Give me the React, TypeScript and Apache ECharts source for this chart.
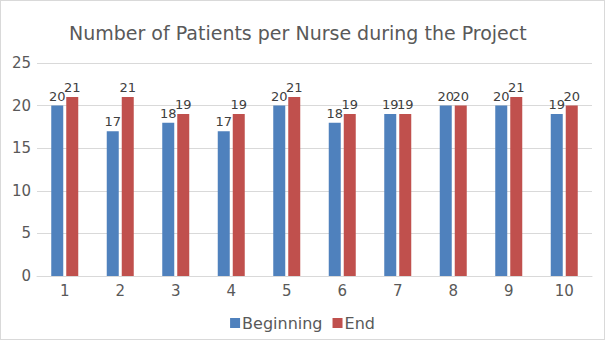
import React, { useEffect, useRef } from "react";
import * as echarts from "echarts";

const categories = ["1", "2", "3", "4", "5", "6", "7", "8", "9", "10"];
const beginning = [20, 17, 18, 17, 20, 18, 19, 20, 20, 19];
const end = [21, 21, 19, 19, 21, 19, 19, 20, 21, 20];

export default function App() {
  const ref = useRef<HTMLDivElement>(null);
  useEffect(() => {
    if (!ref.current) return;
    const chart = echarts.init(ref.current, null, { renderer: "svg" });
    const font = "DejaVu Sans";
    const labelStyle = {
      show: true,
      position: "top" as const,
      color: "#404040",
      fontSize: 13,
      fontFamily: font,
      distance: 3,
    };
    chart.setOption({
      animation: false,
      backgroundColor: "#ffffff",
      title: {
        text: "Number of Patients per Nurse during the Project",
        left: 63,
        top: 17,
        textStyle: { color: "#595959", fontSize: 19, fontWeight: "normal", fontFamily: font },
      },
      legend: {
        bottom: 3,
        left: "center",
        itemWidth: 10,
        itemHeight: 10,
        itemGap: 10,
        icon: "rect",
        textStyle: { color: "#595959", fontSize: 16, fontFamily: font, padding: [0, 0, 0, -3] },
        data: ["Beginning", "End"],
      },
      grid: { left: 36, right: 12, top: 62, bottom: 63, containLabel: false },
      xAxis: {
        type: "category",
        data: categories,
        axisLine: { lineStyle: { color: "#d9d9d9" } },
        axisTick: { show: false },
        axisLabel: { color: "#595959", fontSize: 15, fontFamily: font, margin: 7 },
      },
      yAxis: {
        type: "value",
        min: 0,
        max: 25,
        interval: 5,
        axisLine: { show: false },
        axisTick: { show: false },
        splitLine: { lineStyle: { color: "#d9d9d9" } },
        axisLabel: { color: "#595959", fontSize: 15, fontFamily: font, margin: 6 },
      },
      series: [
        {
          name: "Beginning",
          type: "bar",
          data: beginning,
          barWidth: 12,
          barGap: "25%",
          itemStyle: { color: "#4F81BD" },
          label: labelStyle,
        },
        {
          name: "End",
          type: "bar",
          data: end,
          barWidth: 12,
          itemStyle: { color: "#C0504D" },
          label: labelStyle,
        },
      ],
    });
    return () => chart.dispose();
  }, []);
  return (
    <div
      style={{
        position: "fixed",
        left: 0,
        top: 0,
        width: 605,
        height: 340,
        boxSizing: "border-box",
        border: "1px solid #d9d9d9",
        background: "#fff",
      }}
    >
      <div ref={ref} style={{ width: 603, height: 338 }} />
    </div>
  );
}
